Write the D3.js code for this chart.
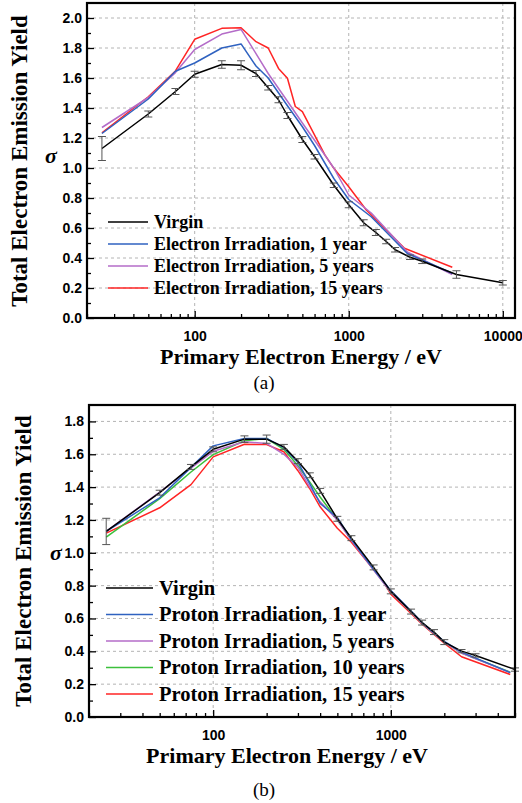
<!DOCTYPE html>
<html>
<head>
<meta charset="utf-8">
<script src="https://cdn.jsdelivr.net/npm/d3@7"></script>
<style>
	body { margin: 0; background: #fff; }
	svg { display: block; }
	.grid line { stroke: #b4b4b4; stroke-dasharray: 3,3; stroke-width: 1; }
</style>
</head>
<body>
<script>
// data - panel (a), electron irradiation
var energyA = [25, 50, 75, 100, 150, 200, 250, 300, 350, 400, 500, 600, 800, 1000, 1250, 1500, 1750, 2000, 2500, 3000, 5000, 10000];
var virginA = [1.13, 1.36, 1.51, 1.625, 1.69, 1.685, 1.63, 1.535, 1.455, 1.35, 1.19, 1.075, 0.885, 0.755, 0.635, 0.57, 0.51, 0.455, 0.405, 0.378, 0.29, 0.235];
var virginErrA = [0.08, 0.02, 0.02, 0.02, 0.025, 0.03, 0.02, 0.015, 0.02, 0.02, 0.02, 0.015, 0.015, 0.02, 0.02, 0.02, 0.015, 0.015, 0.015, 0.015, 0.025, 0.015];

var energyE1 = [25, 50, 75, 100, 150, 200, 250, 300, 400, 500, 600, 800, 1000, 1400, 2400, 4700];
var elec1 = [1.23, 1.46, 1.645, 1.70, 1.80, 1.827, 1.68, 1.60, 1.415, 1.275, 1.15, 0.93, 0.79, 0.675, 0.43, 0.298];
var energyE5 = [25, 50, 75, 100, 150, 200, 300, 400, 500, 600, 800, 1000, 1400, 2400, 4700];
var elec5 = [1.27, 1.47, 1.636, 1.79, 1.893, 1.924, 1.63, 1.445, 1.30, 1.185, 1.0, 0.82, 0.70, 0.44, 0.29];
var energyE15 = [25, 50, 75, 100, 150, 200, 250, 300, 350, 400, 450, 500, 700, 800, 1000, 1300, 2300, 4700];
var elec15 = [1.235, 1.475, 1.647, 1.858, 1.931, 1.935, 1.842, 1.80, 1.664, 1.598, 1.41, 1.376, 1.087, 0.998, 0.875, 0.72, 0.465, 0.338];

// data - panel (b), proton irradiation
var energyB = [25, 50, 75, 100, 150, 200, 250, 300, 350, 400, 500, 600, 800, 1000, 1300, 1500, 1750, 2000, 2500, 3000, 5000];
var virginB = [1.13, 1.366, 1.523, 1.63, 1.692, 1.692, 1.645, 1.558, 1.472, 1.377, 1.207, 1.089, 0.911, 0.765, 0.642, 0.575, 0.517, 0.456, 0.401, 0.375, 0.289];
var virginErrB = [0.08, 0.015, 0.015, 0.015, 0.02, 0.025, 0.015, 0.015, 0.015, 0.015, 0.015, 0.015, 0.015, 0.015, 0.015, 0.015, 0.015, 0.015, 0.01, 0.01, 0.01];

var energyP = [25, 50, 75, 100, 150, 200, 250, 300, 350, 400, 500, 600, 800, 1000, 1300, 1500, 2000, 2500, 4700];
var prot1 = [1.13, 1.335, 1.52, 1.651, 1.696, 1.696, 1.64, 1.55, 1.42, 1.30, 1.215, 1.08, 0.90, 0.77, 0.645, 0.575, 0.46, 0.395, 0.27];
var prot5 = [1.13, 1.37, 1.515, 1.618, 1.676, 1.666, 1.60, 1.52, 1.40, 1.31, 1.20, 1.075, 0.895, 0.76, 0.64, 0.57, 0.455, 0.39, 0.27];
var prot10 = [1.095, 1.33, 1.492, 1.598, 1.682, 1.696, 1.63, 1.53, 1.43, 1.34, 1.20, 1.08, 0.90, 0.76, 0.64, 0.57, 0.455, 0.39, 0.273];
var energyP15 = [25, 50, 75, 100, 150, 200, 250, 300, 350, 400, 500, 600, 900, 1000, 1300, 1500, 2000, 2500, 4700];
var prot15 = [1.12, 1.274, 1.415, 1.584, 1.661, 1.659, 1.615, 1.50, 1.39, 1.28, 1.15, 1.064, 0.83, 0.748, 0.63, 0.565, 0.45, 0.367, 0.259];

// tick labels
var xTicksA = [100, 1000, 10000];
var yTicksA = [0, 0.2, 0.4, 0.6, 0.8, 1.0, 1.2, 1.4, 1.6, 1.8, 2.0];
var xTicksB = [100, 1000];
var yTicksB = [0, 0.2, 0.4, 0.6, 0.8, 1.0, 1.2, 1.4, 1.6, 1.8];

var colors = { virgin: '#000000', y1: '#2f62c0', y5: '#b46cc8', y10: '#3cc03c', y15: '#ff2424' };
var serif = "'Liberation Serif', 'Times New Roman', Times, serif";
var sans = "'Liberation Sans', Arial, sans-serif";

function pairs (xs, ys) {
	return xs.map(function (x, i) { return { e: x, v: ys[i] }; });
}

var svg = d3.select('body')
	.append('svg')
	.attr('width', 522)
	.attr('height', 803);

function drawPanel (cfg) {
	var x = d3.scaleLog().domain(cfg.xDomain).range([cfg.left, cfg.right]);
	var y = d3.scaleLinear().domain(cfg.yDomain).range([cfg.bottom, cfg.top]);
	var g = svg.append('g');

	// grid
	var grid = g.append('g').attr('class', 'grid');
	grid.selectAll('.gx')
		.data(cfg.xTicks)
		.enter().append('line')
		.attr('x1', function (d) { return x(d); })
		.attr('x2', function (d) { return x(d); })
		.attr('y1', cfg.top)
		.attr('y2', cfg.bottom);
	grid.selectAll('.gy')
		.data(cfg.yTicks.slice(1))
		.enter().append('line')
		.attr('x1', cfg.left)
		.attr('x2', cfg.right)
		.attr('y1', function (d) { return y(d); })
		.attr('y2', function (d) { return y(d); });

	// axes with inward ticks
	var xMinor = x.ticks().filter(function (d) { return cfg.xTicks.indexOf(d) < 0; });
	g.append('g')
		.attr('transform', 'translate(0,' + cfg.bottom + ')')
		.call(d3.axisTop(x).tickValues(xMinor).tickSize(4).tickFormat(''))
		.call(function (s) { s.select('.domain').remove(); });
	var xAxis = g.append('g')
		.attr('transform', 'translate(0,' + cfg.bottom + ')')
		.call(d3.axisTop(x).tickValues(cfg.xTicks).tickSize(7).tickFormat(d3.format('d')));
	xAxis.select('.domain').remove();
	xAxis.selectAll('text')
		.attr('font-family', sans)
		.attr('font-weight', 'bold')
		.attr('font-size', 14)
		.attr('fill', '#000')
		.attr('y', 23)
		.attr('dy', 0);

	var yMinor = d3.range(cfg.yDomain[0] + 0.1, cfg.yDomain[1], 0.2);
	g.append('g')
		.attr('transform', 'translate(' + cfg.left + ',0)')
		.call(d3.axisRight(y).tickValues(yMinor).tickSize(4).tickFormat(''))
		.call(function (s) { s.select('.domain').remove(); });
	var yAxis = g.append('g')
		.attr('transform', 'translate(' + cfg.left + ',0)')
		.call(d3.axisRight(y).tickValues(cfg.yTicks).tickSize(7).tickFormat(d3.format('.1f')));
	yAxis.select('.domain').remove();
	yAxis.selectAll('text')
		.attr('font-family', sans)
		.attr('font-weight', 'bold')
		.attr('font-size', 14)
		.attr('fill', '#000')
		.attr('text-anchor', 'end')
		.attr('x', -5);
	g.selectAll('.tick line').attr('stroke', '#000').attr('stroke-width', 1.3);

	// series
	var line = d3.line()
		.x(function (d) { return x(d.e); })
		.y(function (d) { return y(d.v); });

	cfg.series.slice().reverse().forEach(function (s) {
		g.append('path')
			.datum(s.data)
			.attr('fill', 'none')
			.attr('stroke', s.color)
			.attr('stroke-width', 1.5)
			.attr('stroke-linejoin', 'round')
			.attr('d', line);
	});

	// error bars on virgin
	var eb = g.append('g')
		.attr('stroke', '#555')
		.attr('stroke-width', 1);
	cfg.errors.forEach(function (d) {
		var cx = x(d.e);
		eb.append('line').attr('x1', cx).attr('x2', cx).attr('y1', y(d.v - d.err)).attr('y2', y(d.v + d.err));
		eb.append('line').attr('x1', cx - 4).attr('x2', cx + 4).attr('y1', y(d.v - d.err)).attr('y2', y(d.v - d.err));
		eb.append('line').attr('x1', cx - 4).attr('x2', cx + 4).attr('y1', y(d.v + d.err)).attr('y2', y(d.v + d.err));
	});

	// frame
	g.append('rect')
		.attr('x', cfg.left)
		.attr('y', cfg.top)
		.attr('width', cfg.right - cfg.left)
		.attr('height', cfg.bottom - cfg.top)
		.attr('fill', 'none')
		.attr('stroke', '#000')
		.attr('stroke-width', 2.2);

	// legend
	var leg = g.append('g');
	cfg.series.forEach(function (s, i) {
		var ly = cfg.legY + i * cfg.legStep;
		leg.append('line')
			.attr('x1', cfg.legX)
			.attr('x2', cfg.legX + cfg.legLen)
			.attr('y1', ly)
			.attr('y2', ly)
			.attr('stroke', s.color)
			.attr('stroke-width', 1.5);
		leg.append('text')
			.attr('font-family', serif)
			.attr('x', cfg.legX + cfg.legLen + 6)
			.attr('y', ly + cfg.legFont * 0.33)
			.attr('font-size', cfg.legFont)
			.attr('font-weight', 'bold')
			.text(s.name);
	});

	// axis titles
	g.append('text')
		.attr('font-family', serif)
		.attr('transform', 'translate(' + cfg.yTitleX + ',' + cfg.yTitleY + ') rotate(-90)')
		.attr('text-anchor', 'middle')
		.attr('font-size', cfg.titleFont)
		.attr('font-weight', 'bold')
		.text('Total Electron Emission Yield');
	g.append('text')
		.attr('font-family', serif)
		.attr('x', cfg.sigmaX)
		.attr('y', cfg.sigmaY)
		.attr('font-size', 22)
		.attr('font-weight', 'bold')
		.attr('font-style', 'italic')
		.text('σ');
	g.append('text')
		.attr('font-family', serif)
		.attr('x', cfg.xTitleX)
		.attr('y', cfg.bottom + 46)
		.attr('text-anchor', 'middle')
		.attr('font-size', 22)
		.attr('font-weight', 'bold')
		.text('Primary Electron Energy / eV');
	g.append('text')
		.attr('font-family', serif)
		.attr('x', 264)
		.attr('y', cfg.captionY)
		.attr('text-anchor', 'middle')
		.attr('font-size', 19)
		.text(cfg.caption);
}

drawPanel({
	left: 87, right: 515, top: 3, bottom: 318,
	xDomain: [20, 12000], yDomain: [0, 2.1],
	xTicks: xTicksA, yTicks: yTicksA,
	series: [
		{ name: 'Virgin', color: colors.virgin, data: pairs(energyA, virginA) },
		{ name: 'Electron Irradiation, 1 year', color: colors.y1, data: pairs(energyE1, elec1) },
		{ name: 'Electron Irradiation, 5 years', color: colors.y5, data: pairs(energyE5, elec5) },
		{ name: 'Electron Irradiation, 15 years', color: colors.y15, data: pairs(energyE15, elec15) }
	],
	errors: energyA.map(function (e, i) { return { e: e, v: virginA[i], err: virginErrA[i] }; }),
	legX: 108, legLen: 40, legY: 222, legStep: 22, legFont: 18,
	titleFont: 23, yTitleX: 27, yTitleY: 161, xTitleX: 301,
	sigmaX: 45, sigmaY: 163,
	caption: '(a)', captionY: 389
});

drawPanel({
	left: 89, right: 515, top: 405, bottom: 717,
	xDomain: [20, 5000], yDomain: [0, 1.9],
	xTicks: xTicksB, yTicks: yTicksB,
	series: [
		{ name: 'Virgin', color: colors.virgin, data: pairs(energyB, virginB) },
		{ name: 'Proton Irradiation, 1 year', color: colors.y1, data: pairs(energyP, prot1) },
		{ name: 'Proton Irradiation, 5 years', color: colors.y5, data: pairs(energyP, prot5) },
		{ name: 'Proton Irradiation, 10 years', color: colors.y10, data: pairs(energyP, prot10) },
		{ name: 'Proton Irradiation, 15 years', color: colors.y15, data: pairs(energyP15, prot15) }
	],
	errors: energyB.map(function (e, i) { return { e: e, v: virginB[i], err: virginErrB[i] }; }),
	legX: 106, legLen: 47, legY: 588, legStep: 26.5, legFont: 20.5,
	titleFont: 23, yTitleX: 31, yTitleY: 561, xTitleX: 287,
	sigmaX: 50, sigmaY: 560,
	caption: '(b)', captionY: 796
});
</script>
</body>
</html>
